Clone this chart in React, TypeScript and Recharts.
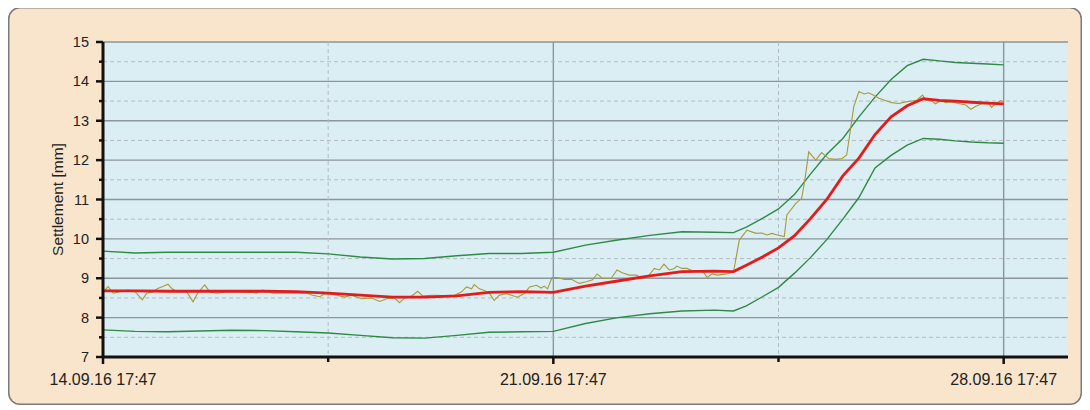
import { CartesianGrid, Line, LineChart, XAxis, YAxis } from "recharts";

// time axis: days after 14.09.16 17:47
const START = Date.UTC(2016, 8, 14, 17, 47);

const bandDays = [
  0, 0.5, 1, 1.5, 2, 2.5, 3, 3.5, 4, 4.5, 5, 5.5, 6, 6.5, 7, 7.5, 8, 8.5, 9, 9.5, 9.8, 10, 10.25, 10.5, 10.75,
  11, 11.25, 11.5, 11.75, 12, 12.25, 12.5, 12.75, 13, 13.25, 13.5, 13.75, 14,
];
const meanValues = [
  8.68, 8.68, 8.67, 8.67, 8.67, 8.67, 8.66, 8.62, 8.57, 8.52, 8.52, 8.55, 8.64, 8.66, 8.64, 8.8, 8.93, 9.06, 9.17,
  9.18, 9.17, 9.33, 9.54, 9.77, 10.08, 10.52, 11.0, 11.6, 12.05, 12.65, 13.1, 13.38, 13.56, 13.52, 13.5, 13.47,
  13.45, 13.43,
];
const upperValues = [
  9.69, 9.64, 9.66, 9.66, 9.66, 9.66, 9.66, 9.62, 9.54, 9.49, 9.5, 9.57, 9.63, 9.63, 9.66, 9.84, 9.97, 10.09, 10.18,
  10.17, 10.16, 10.3, 10.52, 10.76, 11.13, 11.65, 12.15, 12.55, 13.1, 13.6, 14.05, 14.4, 14.56, 14.52, 14.48, 14.46,
  14.44, 14.42,
];
const lowerValues = [
  7.69, 7.65, 7.64, 7.66, 7.68, 7.67, 7.64, 7.61, 7.55, 7.49, 7.48, 7.55, 7.63, 7.64, 7.65, 7.85, 8.0, 8.1, 8.17,
  8.19, 8.17, 8.3, 8.53, 8.77, 9.13, 9.53, 9.98, 10.5, 11.05, 11.8, 12.12, 12.38, 12.55, 12.53, 12.49, 12.46, 12.44,
  12.43,
];

const rawDays = [
  0.03, 0.08, 0.16, 0.26, 0.39, 0.5, 0.61, 0.68, 0.78, 0.85, 0.93, 1.01, 1.07, 1.15, 1.3, 1.4, 1.47, 1.58, 1.66,
  1.77, 1.92, 2.13, 2.39, 2.48, 2.64, 2.86, 3.17, 3.26, 3.37, 3.45, 3.6, 3.76, 3.86, 4.02, 4.18, 4.3, 4.41, 4.53,
  4.61, 4.69, 4.8, 4.89, 4.97, 5.11, 5.2, 5.35, 5.46, 5.57, 5.65, 5.73, 5.77, 5.85, 5.93, 6.01, 6.08, 6.16, 6.27,
  6.35, 6.44, 6.55, 6.63, 6.74, 6.81, 6.86, 6.91, 6.98, 7.06, 7.17, 7.29, 7.4, 7.51, 7.61, 7.68, 7.76, 7.9, 7.99,
  8.07, 8.18, 8.29, 8.38, 8.49, 8.57, 8.65, 8.72, 8.8, 8.88, 8.92, 9.0, 9.08, 9.16, 9.27, 9.34, 9.39, 9.47, 9.55,
  9.69, 9.76, 9.8, 9.89, 10.01, 10.15, 10.24, 10.32, 10.4, 10.48, 10.59, 10.63, 10.77, 10.86, 10.91, 10.97, 11.08,
  11.17, 11.28, 11.39, 11.49, 11.56, 11.61, 11.67, 11.75, 11.83, 11.9, 11.98, 12.06, 12.17, 12.26, 12.37, 12.48,
  12.57, 12.65, 12.71, 12.74, 12.79, 12.87, 12.94, 13.02, 13.1, 13.19, 13.3, 13.41, 13.49, 13.56, 13.66, 13.77,
  13.81, 13.88, 13.95, 14.0,
];
const rawValues = [
  8.7, 8.79, 8.62, 8.66, 8.7, 8.66, 8.45, 8.62, 8.66, 8.74, 8.79, 8.85, 8.74, 8.66, 8.66, 8.4, 8.62, 8.83, 8.66,
  8.62, 8.66, 8.66, 8.63, 8.7, 8.62, 8.62, 8.62, 8.57, 8.53, 8.61, 8.58, 8.52, 8.57, 8.48, 8.5, 8.41, 8.48, 8.5,
  8.38, 8.5, 8.55, 8.67, 8.55, 8.57, 8.57, 8.55, 8.57, 8.65, 8.78, 8.73, 8.84, 8.73, 8.69, 8.61, 8.44, 8.57, 8.61,
  8.57, 8.52, 8.61, 8.78, 8.82, 8.75, 8.8, 8.73, 9.02, 9.02, 8.97, 8.97, 8.87, 8.91, 8.96, 9.11, 9.0, 9.0, 9.21,
  9.14, 9.08, 9.08, 9.0, 9.08, 9.25, 9.21, 9.36, 9.21, 9.25, 9.31, 9.25, 9.25, 9.19, 9.19, 9.14, 9.02, 9.11, 9.08,
  9.11, 9.14, 9.15, 9.97, 10.22, 10.14, 10.15, 10.1, 10.14, 10.1, 10.06, 10.61, 10.9, 11.03, 11.5, 12.21, 12.0,
  12.19, 12.04, 12.02, 12.04, 12.13, 12.68, 13.36, 13.74, 13.68, 13.71, 13.65, 13.57, 13.51, 13.46, 13.44, 13.48,
  13.5, 13.52, 13.61, 13.65, 13.52, 13.51, 13.43, 13.51, 13.46, 13.48, 13.44, 13.4, 13.29, 13.36, 13.43, 13.44,
  13.34, 13.44, 13.51, 13.48,
];

const yTicks = [7, 7.5, 8, 8.5, 9, 9.5, 10, 10.5, 11, 11.5, 12, 12.5, 13, 13.5, 14, 14.5, 15];
const xTicks = [0, 3.5, 7, 10.5, 14];
const yMajorGrid = [8, 9, 10, 11, 12, 13, 14, 15];
const yMinorGrid = [7.5, 8.5, 9.5, 10.5, 11.5, 12.5, 13.5, 14.5];
const xMajorGrid = [7, 14];
const xMinorGrid = [3.5, 10.5];

const bandData = bandDays.map((day, i) => ({
  day,
  mean: meanValues[i],
  upper: upperValues[i],
  lower: lowerValues[i],
}));
const rawData = rawDays.map((day, i) => ({ day, raw: rawValues[i] }));

const FONT = "'Liberation Sans', Arial, sans-serif";
const pad = (n: number) => String(n).padStart(2, "0");

function formatDay(day: number) {
  const d = new Date(START + day * 86400000);
  return `${pad(d.getUTCDate())}.${pad(d.getUTCMonth() + 1)}.${pad(d.getUTCFullYear() % 100)} ${pad(
    d.getUTCHours()
  )}:${pad(d.getUTCMinutes())}`;
}

function YTick({ x, y, payload }: any) {
  const major = Number.isInteger(payload.value);
  return (
    <g>
      <line x1={x - (major ? 7 : 4)} x2={x} y1={y} y2={y} stroke="#111" strokeWidth={2.5} />
      {major && (
        <text x={x - 14} y={y} dy={5} textAnchor="end" fontSize={14.5} fontFamily={FONT} fill="#222">
          {payload.value}
        </text>
      )}
    </g>
  );
}

function XTick({ x, y, payload }: any) {
  const labelled = Number.isInteger(payload.value);
  return (
    <g>
      <line x1={x} x2={x} y1={y} y2={y + (labelled ? 7 : 5)} stroke="#111" strokeWidth={2.5} />
      {labelled && (
        <text x={x} y={y + 28} textAnchor="middle" fontSize={16} fontFamily={FONT} fill="#222">
          {formatDay(payload.value)}
        </text>
      )}
    </g>
  );
}

function YTitle({ viewBox }: any) {
  const cx = viewBox.x + 14;
  const cy = viewBox.y + viewBox.height / 2;
  return (
    <text
      x={cx}
      y={cy}
      transform={`rotate(-90 ${cx} ${cy})`}
      textAnchor="middle"
      dominantBaseline="central"
      fontSize={15.5}
      fontFamily={FONT}
      fill="#222"
    >
      Settlement [mm]
    </text>
  );
}

export default function App() {
  return (
    <div
      style={{
        position: "relative",
        width: 1074,
        height: 398,
        marginTop: -1,
        background: "#f9e5cc",
        borderRadius: 12,
        boxShadow: "inset 0 0 0 1.5px #7a7a7a",
      }}
    >
      <LineChart width={1074} height={398} margin={{ top: 35, right: 14, left: 35, bottom: 18 }}>
        <CartesianGrid
          fill="#daeef3"
          fillOpacity={1}
          stroke="#8a969a"
          strokeWidth={1.4}
          horizontalValues={yMajorGrid}
          verticalValues={xMajorGrid}
        />
        <CartesianGrid
          stroke="#b3bec2"
          strokeDasharray="4 3"
          horizontalValues={yMinorGrid}
          verticalValues={xMinorGrid}
        />
        <XAxis
          dataKey="day"
          type="number"
          domain={[0, 15]}
          ticks={xTicks}
          interval={0}
          height={30}
          tickSize={0}
          tickMargin={0}
          tickLine={false}
          tick={<XTick />}
          axisLine={{ stroke: "#111", strokeWidth: 3 }}
        />
        <YAxis
          type="number"
          domain={[7, 15]}
          ticks={yTicks}
          interval={0}
          width={60}
          tickSize={0}
          tickMargin={0}
          tickLine={false}
          tick={<YTick />}
          axisLine={{ stroke: "#111", strokeWidth: 3 }}
          label={(props: any) => <YTitle {...props} />}
        />
        <Line data={bandData} dataKey="upper" type="linear" stroke="#2f8a46" strokeWidth={1.4} dot={false} isAnimationActive={false} />
        <Line data={bandData} dataKey="lower" type="linear" stroke="#2f8a46" strokeWidth={1.4} dot={false} isAnimationActive={false} />
        <Line data={rawData} dataKey="raw" type="linear" stroke="#a89a38" strokeWidth={1.1} dot={false} isAnimationActive={false} />
        <Line data={bandData} dataKey="mean" type="linear" stroke="#e31b1b" strokeWidth={2.8} dot={false} isAnimationActive={false} />
      </LineChart>
    </div>
  );
}
